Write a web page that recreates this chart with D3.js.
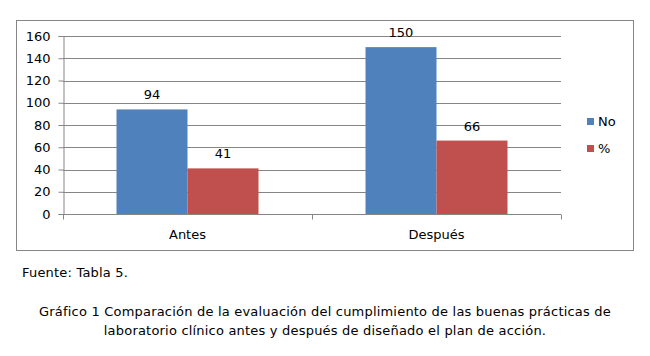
<!DOCTYPE html>
<html><head><meta charset="utf-8">
<script src="https://cdn.jsdelivr.net/npm/d3@7"></script>
<style>body{margin:0;background:#fff}svg{display:block}</style>
</head><body>
<script>
const categories = ["Antes", "Después"];
const seriesNames = ["No", "%"];
const seriesNo = [94, 150];
const seriesPct = [41, 66];
const yTicks = [0, 20, 40, 60, 80, 100, 120, 140, 160];
const colors = ["#4F81BD", "#C0504D"];
const captionSource = "Fuente: Tabla 5.";
const captionLines = ["Gráfico 1 Comparación de la evaluación del cumplimiento de las buenas prácticas de",
  "laboratorio clínico antes y después de diseñado el plan de acción."];

(function () {
const W = 650, H = 356;
const svg = d3.select("body").append("svg").attr("width", W).attr("height", H);
const font = "Verdana, 'DejaVu Sans', sans-serif";

// chart frame
svg.append("rect").attr("x", 16.5).attr("y", 20.5).attr("width", 617).attr("height", 230)
  .attr("fill", "#fff").attr("stroke", "#868686").attr("stroke-width", 1);

const pl = 63, pr = 561, pt = 36, pb = 214;
const y = d3.scaleLinear().domain([0, 160]).range([pb, pt]);
const x0 = d3.scaleBand().domain(categories).range([pl, pr]).padding(0);
const x1 = d3.scaleBand().domain(seriesNames).range([53.5, x0.bandwidth() - 53.5]).padding(0);

// gridlines
svg.append("g").selectAll("line").data(yTicks.filter(t => t > 0)).join("line")
  .attr("x1", pl).attr("x2", pr)
  .attr("y1", d => Math.round(y(d)) + 0.5).attr("y2", d => Math.round(y(d)) + 0.5)
  .attr("stroke", "#868686").attr("stroke-width", 1);

const data = categories.map((c, i) => ({cat: c, vals: [seriesNo[i], seriesPct[i]]}));
const groups = svg.append("g").selectAll("g").data(data).join("g")
  .attr("transform", d => `translate(${x0(d.cat)},0)`);
groups.selectAll("rect").data(d => d.vals.map((v, j) => ({name: seriesNames[j], v, j}))).join("rect")
  .attr("x", d => x1(d.name)).attr("width", x1.bandwidth())
  .attr("y", d => y(d.v)).attr("height", d => y(0) - y(d.v))
  .attr("fill", d => colors[d.j]);
groups.selectAll("text").data(d => d.vals.map((v, j) => ({name: seriesNames[j], v, j}))).join("text")
  .attr("x", d => x1(d.name) + x1.bandwidth() / 2).attr("y", d => y(d.v) - 10)
  .attr("text-anchor", "middle").attr("font-family", font).attr("font-size", 13).attr("fill", "#000")
  .text(d => d.v);

// y axis
const yAxis = svg.append("g").attr("transform", `translate(${pl + 0.5},0)`)
  .call(d3.axisLeft(y).tickValues(yTicks).tickSize(5).tickPadding(8));
yAxis.select(".domain").attr("stroke", "#868686");
yAxis.selectAll(".tick line").attr("stroke", "#868686");
yAxis.selectAll("text").attr("font-family", font).attr("font-size", 13).attr("fill", "#000");

// x axis
const xg = svg.append("g").attr("transform", `translate(0,${pb + 0.5})`);
xg.append("line").attr("x1", pl).attr("x2", pr).attr("stroke", "#868686");
xg.selectAll("line.tk").data([pl, ...categories.map(c => x0(c) + x0.bandwidth())]).join("line")
  .attr("class", "tk").attr("x1", d => Math.round(d) + 0.5).attr("x2", d => Math.round(d) + 0.5)
  .attr("y1", 0).attr("y2", 5).attr("stroke", "#868686");
xg.selectAll("text").data(categories).join("text")
  .attr("x", d => x0(d) + x0.bandwidth() / 2).attr("y", 24)
  .attr("text-anchor", "middle").attr("font-family", font).attr("font-size", 13).attr("fill", "#000")
  .text(d => d);

// legend
const lg = svg.append("g").selectAll("g").data(seriesNames).join("g")
  .attr("transform", (d, i) => `translate(587,${118 + i * 27})`);
lg.append("rect").attr("width", 7).attr("height", 7).attr("fill", (d, i) => colors[i]);
lg.append("text").attr("x", 11).attr("y", 8).attr("font-family", font).attr("font-size", 13)
  .attr("fill", "#000").text(d => d);

// captions
svg.append("text").attr("x", 22).attr("y", 277).attr("font-family", font).attr("font-size", 13)
  .attr("letter-spacing", 0.2).attr("fill", "#000").text(captionSource);
svg.append("g").selectAll("text").data(captionLines).join("text")
  .attr("x", 325).attr("y", (d, i) => 316 + i * 19).attr("text-anchor", "middle")
  .attr("font-family", font).attr("font-size", 13).attr("letter-spacing", 0.2)
  .attr("fill", "#000").text(d => d);
})();
</script>
</body></html>
